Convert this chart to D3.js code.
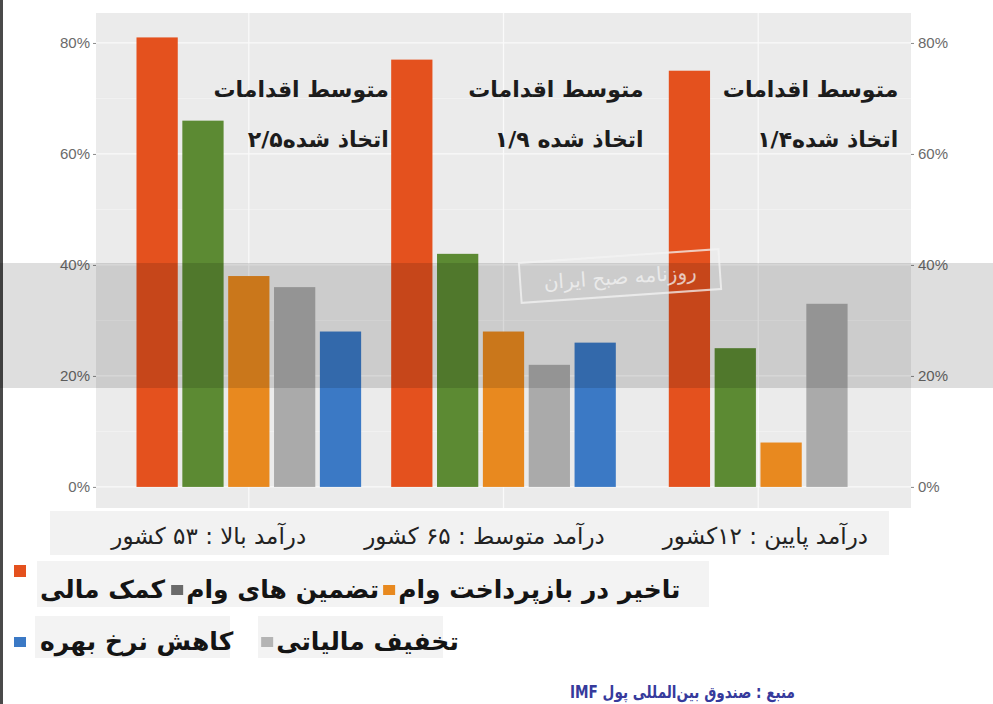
<!DOCTYPE html>
<html>
<head>
<meta charset="utf-8">
<script src="https://cdn.jsdelivr.net/npm/d3@7"></script>
<style>
  body { margin: 0; background: #fff; }
  svg { display: block; font-family: "DejaVu Sans", sans-serif; }
</style>
</head>
<body>
<div id="graphicContainer"></div>
<script>

// categories (left to right on the chart)
const groups = ["درآمد بالا : ۵۳ کشور", "درآمد متوسط : ۶۵ کشور", "درآمد پایین : ۱۲کشور"]

// average number of measures per group
const averageNotes = ["اتخاذ شده۲/۵", "اتخاذ شده ۱/۹", "اتخاذ شده۱/۴"]

const seriesNames = ["کمک مالی", "تضمین های وام", "تاخیر در بازپرداخت وام", "تخفیف مالیاتی", "کاهش نرخ بهره"]

// percent of countries, one value per group
const financialAid   = [81, 77, 75]
const loanGuarantees = [66, 42, 25]
const loanDeferral   = [38, 28, 8]
const taxRelief      = [36, 22, 33]
const rateCuts       = [28, 26, null]

const seriesValues = [financialAid, loanGuarantees, loanDeferral, taxRelief, rateCuts]

const yTicks = [0, 20, 40, 60, 80]
const yMinorTicks = [10, 30, 50, 70]

const sourceText = "منبع : صندوق بین‌المللی پول IMF"
const stampText = "روزنامه صبح ایران"

// styles
const barColors = ["#e4511e", "#5c8a33", "#e8891f", "#aaaaaa", "#3b79c5"]
const swatchColors = ["#e4511e", "#6a6a6a", "#e8891f", "#b4b4b4", "#3b79c5"]

const rtl = s => "\u202B" + s + "\u202C"

const svgWidth = 993, svgHeight = 704
const panel = { left: 96, right: 911, top: 13, bottom: 508 }

const svg = d3.select("#graphicContainer")
  .append("svg")
  .attr("width", svgWidth)
  .attr("height", svgHeight)

const x = d3.scalePoint()
  .domain(groups)
  .range([panel.left, panel.right])
  .padding(0.6)

const y = d3.scaleLinear()
  .domain([-3.8, 85.4])
  .range([panel.bottom, panel.top])

const slot = x.step() * 0.9 / seriesNames.length

// left frame line
svg.append("rect")
  .attr("x", 0).attr("y", 0)
  .attr("width", 3).attr("height", svgHeight)
  .attr("fill", "#4a4a4a")

// panel background
svg.append("rect")
  .attr("x", panel.left).attr("y", panel.top)
  .attr("width", panel.right - panel.left)
  .attr("height", panel.bottom - panel.top)
  .attr("fill", "#ebebeb")

const grid = svg.append("g")

grid.selectAll(".minor")
  .data(yMinorTicks)
  .enter()
  .append("line")
  .attr("x1", panel.left).attr("x2", panel.right)
  .attr("y1", d => y(d)).attr("y2", d => y(d))
  .attr("stroke", "#f6f6f6")
  .attr("stroke-width", 0.6)

grid.selectAll(".major")
  .data(yTicks)
  .enter()
  .append("line")
  .attr("x1", panel.left).attr("x2", panel.right)
  .attr("y1", d => y(d)).attr("y2", d => y(d))
  .attr("stroke", "#fafafa")
  .attr("stroke-width", 1.2)

grid.selectAll(".vert")
  .data(groups)
  .enter()
  .append("line")
  .attr("x1", d => x(d)).attr("x2", d => x(d))
  .attr("y1", panel.top).attr("y2", panel.bottom)
  .attr("stroke", "#fafafa")
  .attr("stroke-width", 1.2)

// bars, dodged and centred on each group (missing bars are dropped)
const bars = svg.append("g")

groups.forEach((g, gi) => {

  const present = seriesNames
    .map((s, si) => si)
    .filter(si => seriesValues[si][gi] != null)

  const half = present.length * slot / 2

  const inner = d3.scaleBand()
    .domain(present)
    .range([x(g) - half, x(g) + half])
    .paddingInner(0.1)
    .paddingOuter(0.05)

  bars.selectAll(".bar" + gi)
    .data(present)
    .enter()
    .append("rect")
    .attr("x", si => inner(si))
    .attr("width", inner.bandwidth())
    .attr("y", si => y(seriesValues[si][gi]))
    .attr("height", si => y(0) - y(seriesValues[si][gi]))
    .attr("fill", si => barColors[si])

})

// axes on both sides
const styleAxis = sel => {
  sel.select(".domain").remove()
  sel.selectAll(".tick line").attr("stroke", "#8a8a8a")
  sel.selectAll(".tick text")
    .attr("fill", "#6a6a6a")
    .style("font-family", "'Liberation Sans', Arial, sans-serif")
    .style("font-size", "15px")
}

svg.append("g")
  .attr("transform", `translate(${panel.left},0)`)
  .call(d3.axisLeft(y).tickValues(yTicks).tickFormat(d => d + "%").tickSize(3).tickPadding(3))
  .call(styleAxis)

svg.append("g")
  .attr("transform", `translate(${panel.right},0)`)
  .call(d3.axisRight(y).tickValues(yTicks).tickFormat(d => d + "%").tickSize(3).tickPadding(4))
  .call(styleAxis)

// "average measures taken" notes
const notes = svg.append("g")
  .style("font-weight", "bold")
  .style("font-size", "22px")
  .attr("fill", "#1c1c1c")

groups.forEach((g, gi) => {
  const nx = x(g) + x.step() * 0.55
  notes.append("text")
    .attr("x", nx).attr("y", 97)
    .attr("text-anchor", "end")
    .text(rtl("متوسط اقدامات"))
  notes.append("text")
    .attr("x", nx).attr("y", 147)
    .attr("text-anchor", "end")
    .text(rtl(averageNotes[gi]))
})

// watermark: grey band and stamp
svg.append("rect")
  .attr("x", 0).attr("y", 263)
  .attr("width", svgWidth).attr("height", 125)
  .attr("fill", "#000")
  .attr("opacity", 0.13)

const stamp = svg.append("g")
  .attr("transform", "translate(620,276) rotate(-4)")
  .attr("opacity", 0.75)

stamp.append("rect")
  .attr("x", -100).attr("y", -20)
  .attr("width", 200).attr("height", 40)
  .attr("fill", "none")
  .attr("stroke", "#f4f4f4")
  .attr("stroke-width", 2)

stamp.append("text")
  .attr("x", 0).attr("y", 8)
  .attr("text-anchor", "middle")
  .attr("fill", "#f4f4f4")
  .style("font-size", "20px")
  .text(rtl(stampText))

// category labels strip
svg.append("rect")
  .attr("x", 50).attr("y", 511)
  .attr("width", 839).attr("height", 44)
  .attr("fill", "#f2f2f2")

const catG = svg.append("g")
  .style("font-size", "23px")
  .attr("fill", "#222")

let cx = 868
groups.slice().reverse().forEach(g => {
  const t = catG.append("text")
    .attr("x", cx).attr("y", 544)
    .attr("text-anchor", "end")
    .text(rtl(g))
  cx -= t.node().getComputedTextLength() + 58
})

// legend
const legendRows = [
  { items: [0, 1, 2], y: 598, bg: [[37, 561, 672, 46]], gaps: [6, 4] },
  { items: [4, 3], y: 650, bg: [[35, 616, 195, 42], [258, 616, 185, 42]], gaps: [28] }
]

const legend = svg.append("g")

legendRows.forEach((row, ri) => {

  row.bg.forEach(b => {
    legend.append("rect")
      .attr("x", b[0]).attr("y", b[1])
      .attr("width", b[2]).attr("height", b[3])
      .attr("fill", "#f3f3f3")
  })

  let lx = 14
  row.items.forEach((si, k) => {

    const raised = ri === 0 && k === 0
    legend.append("rect")
      .attr("x", lx)
      .attr("y", raised ? row.y - 33 : row.y - 13)
      .attr("width", 12).attr("height", raised ? 12 : 10)
      .attr("fill", swatchColors[si])

    const tx = lx + (k === 0 ? 26 : 15)
    const t = legend.append("text")
      .attr("x", tx).attr("y", row.y)
      .attr("text-anchor", "start")
      .style("font-size", "25px")
      .style("font-weight", "bold")
      .attr("fill", "#141414")
      .text(rtl(seriesNames[si]))

    lx = tx + t.node().getComputedTextLength() + (row.gaps[k] || 0)
  })

})

// source
svg.append("text")
  .attr("x", 795).attr("y", 698)
  .attr("text-anchor", "end")
  .attr("textLength", 225)
  .attr("lengthAdjust", "spacingAndGlyphs")
  .style("font-size", "17px")
  .style("font-weight", "bold")
  .attr("fill", "#363a9c")
  .text(rtl(sourceText))

</script>
</body>
</html>
